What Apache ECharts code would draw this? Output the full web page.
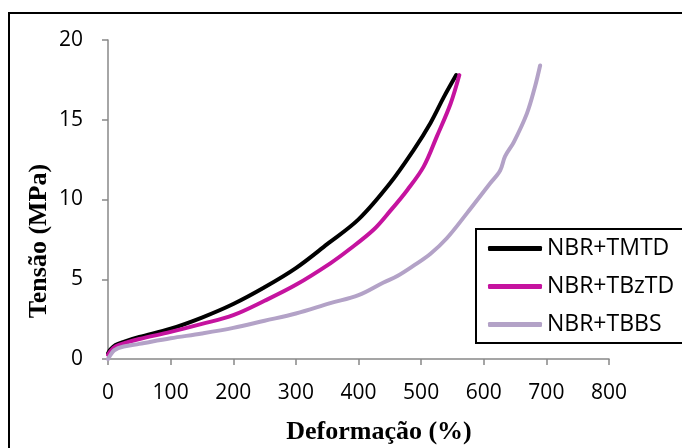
<!DOCTYPE html>
<html>
<head>
<meta charset="utf-8">
<script src="https://cdn.jsdelivr.net/npm/echarts@6/dist/echarts.min.js"></script>
<style>
html,body{margin:0;padding:0;background:#fff;}
#chart{width:682px;height:448px;}
</style>
</head>
<body>
<div id="chart"></div>
<script>
// Data
var seriesNames = ['NBR+TMTD', 'NBR+TBzTD', 'NBR+TBBS'];
var xTicks = [0, 100, 200, 300, 400, 500, 600, 700, 800];
var yTicks = [0, 5, 10, 15, 20];

var tmtdX = [0, 4, 12, 25, 50, 100, 150, 200, 250, 300, 350, 400, 450, 488, 515, 536, 556];
var tmtdY = [0.35, 0.6, 0.88, 1.08, 1.38, 1.9, 2.6, 3.45, 4.5, 5.7, 7.2, 8.75, 11.0, 13.1, 14.8, 16.4, 17.8];

var tbztdX = [0, 4, 12, 25, 50, 100, 150, 200, 250, 300, 355, 383, 424, 451, 478, 504, 525, 547, 561];
var tbztdY = [0.27, 0.5, 0.78, 0.98, 1.25, 1.7, 2.2, 2.75, 3.65, 4.65, 6.0, 6.8, 8.1, 9.3, 10.6, 12.06, 13.94, 16.0, 17.8];

var tbbsX = [0, 3, 10, 25, 50, 100, 150, 200, 250, 300, 355, 400, 440, 462, 488, 515, 541, 573, 610, 626, 634, 648, 669, 682, 690];
var tbbsY = [0.0, 0.2, 0.55, 0.78, 0.95, 1.3, 1.6, 1.95, 2.4, 2.85, 3.5, 4.0, 4.8, 5.2, 5.85, 6.6, 7.57, 9.13, 11.0, 11.8, 12.7, 13.6, 15.4, 17.1, 18.4];

var colors = ['#000000', '#C5139F', '#B3A2C7'];

function pairs(xs, ys) {
  var out = [];
  for (var i = 0; i < xs.length; i++) out.push([xs[i], ys[i]]);
  return out;
}

var chart = echarts.init(document.getElementById('chart'), null, {renderer: 'canvas'});
var tickFont = '"Open Sans", "Noto Sans", sans-serif';
var titleFont = '"Liberation Serif", "Times New Roman", serif';

function mkSeries(name, xs, ys, color) {
  return {
    name: name,
    type: 'line',
    data: pairs(xs, ys),
    showSymbol: false,
    symbol: 'none',
    smooth: 0.35,
    lineStyle: {color: color, width: 4, cap: 'round', join: 'round'},
    itemStyle: {color: color},
    emphasis: {disabled: true},
    z: 2
  };
}

chart.setOption({
  animation: false,
  backgroundColor: '#ffffff',
  grid: {left: 108, top: 40, right: 73, bottom: 89, containLabel: false},
  xAxis: {
    type: 'value',
    min: xTicks[0],
    max: xTicks[xTicks.length - 1],
    interval: 100,
    axisLine: {show: true, onZero: false, lineStyle: {color: '#888888', width: 1.5}},
    axisTick: {show: true, inside: false, length: 6, lineStyle: {color: '#888888', width: 1.5}},
    axisLabel: {fontFamily: tickFont, fontSize: 21, color: '#000', margin: 24},
    splitLine: {show: false}
  },
  yAxis: {
    type: 'value',
    min: yTicks[0],
    max: yTicks[yTicks.length - 1],
    interval: 5,
    axisLine: {show: true, onZero: false, lineStyle: {color: '#888888', width: 1.5}},
    axisTick: {show: true, inside: false, length: 6, lineStyle: {color: '#888888', width: 1.5}},
    axisLabel: {fontFamily: tickFont, fontSize: 21, color: '#000', margin: 25},
    splitLine: {show: false}
  },
  legend: {
    orient: 'vertical',
    left: 476,
    top: 229,
    data: seriesNames,
    icon: 'roundRect',
    itemWidth: 54,
    itemHeight: 5,
    itemGap: 15,
    padding: [8, 40, 7, 12],
    borderColor: '#000',
    borderWidth: 2,
    backgroundColor: '#fff',
    textStyle: {fontFamily: tickFont, fontSize: 23, color: '#000', lineHeight: 23, padding: [0, 0, 0, 0]},
    selectedMode: false
  },
  graphic: [
    {
      type: 'rect',
      shape: {x: 9, y: 13, width: 700, height: 460},
      style: {fill: 'none', stroke: '#000', lineWidth: 2},
      silent: true,
      z: 100
    },
    {
      type: 'text',
      x: 39,
      y: 241,
      rotation: Math.PI / 2,
      style: {
        text: 'Tensão (MPa)',
        font: 'bold 26px ' + titleFont,
        fill: '#000',
        align: 'center',
        verticalAlign: 'middle'
      },
      silent: true
    },
    {
      type: 'text',
      x: 379,
      y: 432,
      style: {
        text: 'Deformação (%)',
        font: 'bold 26px ' + titleFont,
        fill: '#000',
        align: 'center',
        verticalAlign: 'middle'
      },
      silent: true
    }
  ],
  series: [
    mkSeries(seriesNames[0], tmtdX, tmtdY, colors[0]),
    mkSeries(seriesNames[1], tbztdX, tbztdY, colors[1]),
    mkSeries(seriesNames[2], tbbsX, tbbsY, colors[2])
  ]
});
</script>
</body>
</html>
